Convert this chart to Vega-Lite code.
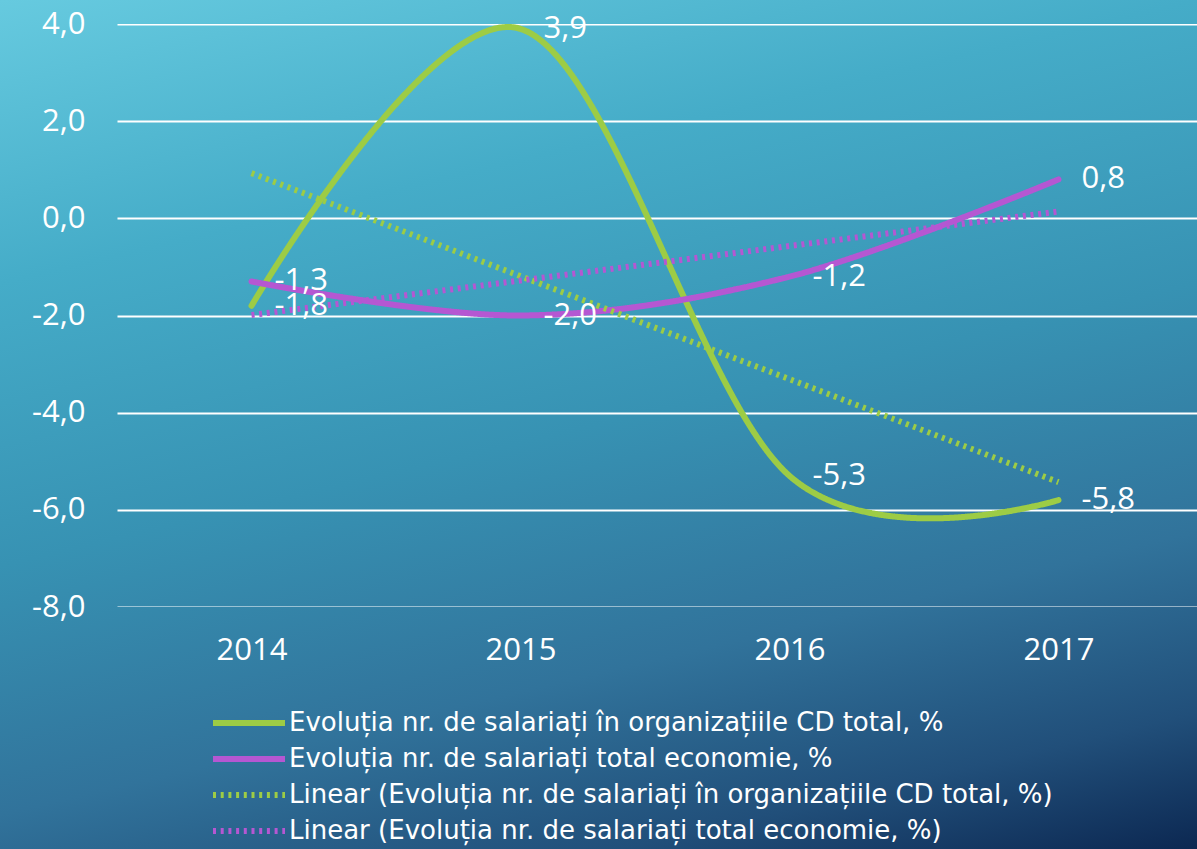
{
  "$schema": "https://vega.github.io/schema/vega-lite/v6.json",
  "width": 1080,
  "height": 583,
  "autosize": {"type": "none"},
  "padding": {"left": 117, "top": 24, "right": 0, "bottom": 242},
  "background": "#2f7fa3",
  "config": {
    "font": "Open Sans",
    "view": {
      "stroke": null,
      "fill": {
        "gradient": "linear", "x1": -0.03254, "y1": -0.07429, "x2": 0.68114, "y2": 1.55481,
        "stops": [
          {"offset": 0, "color": "#66cadf"},
          {"offset": 0.25, "color": "#45acc8"},
          {"offset": 0.5, "color": "#3792b3"},
          {"offset": 0.72, "color": "#31739b"},
          {"offset": 0.88, "color": "#214f7a"},
          {"offset": 1, "color": "#0c2852"}
        ]
      }
    },
    "locale": {
      "number": {"decimal": ",", "thousands": ".", "grouping": [3], "currency": ["", " €"], "minus": "-"}
    }
  },
  "datasets": {
    "main": [
      {"year": 2014, "series": "Evoluția nr. de salariați în organizațiile CD total, %", "trend": "Linear (Evoluția nr. de salariați în organizațiile CD total, %)", "value": -1.8},
      {"year": 2015, "series": "Evoluția nr. de salariați în organizațiile CD total, %", "trend": "Linear (Evoluția nr. de salariați în organizațiile CD total, %)", "value": 3.9},
      {"year": 2016, "series": "Evoluția nr. de salariați în organizațiile CD total, %", "trend": "Linear (Evoluția nr. de salariați în organizațiile CD total, %)", "value": -5.3},
      {"year": 2017, "series": "Evoluția nr. de salariați în organizațiile CD total, %", "trend": "Linear (Evoluția nr. de salariați în organizațiile CD total, %)", "value": -5.8},
      {"year": 2014, "series": "Evoluția nr. de salariați total economie, %", "trend": "Linear (Evoluția nr. de salariați total economie, %)", "value": -1.3},
      {"year": 2015, "series": "Evoluția nr. de salariați total economie, %", "trend": "Linear (Evoluția nr. de salariați total economie, %)", "value": -2.0},
      {"year": 2016, "series": "Evoluția nr. de salariați total economie, %", "trend": "Linear (Evoluția nr. de salariați total economie, %)", "value": -1.2},
      {"year": 2017, "series": "Evoluția nr. de salariați total economie, %", "trend": "Linear (Evoluția nr. de salariați total economie, %)", "value": 0.8}
    ]
  },
  "resolve": {"axis": {"y": "independent"}},
  "layer": [
    {
      "data": {"values": [{}]},
      "mark": {
        "type": "rect",
        "fill": {
          "gradient": "linear", "x1": 0, "y1": 0, "x2": 0.0434, "y2": 1.3319,
          "stops": [
            {"offset": 0, "color": "#66cadf"},
            {"offset": 0.25, "color": "#45acc8"},
            {"offset": 0.5, "color": "#3792b3"},
            {"offset": 0.72, "color": "#31739b"},
            {"offset": 0.88, "color": "#214f7a"},
            {"offset": 1, "color": "#0c2852"}
          ]
        }
      },
      "encoding": {"x": {"value": -117}, "x2": {"value": 0}, "y": {"value": -24}, "y2": {"value": 825}}
    },
    {
      "data": {"values": [{}]},
      "mark": {
        "type": "rect",
        "fill": {
          "gradient": "linear", "x1": -0.10738, "y1": -0.01009, "x2": 4.28624, "y2": 0.4028,
          "stops": [
            {"offset": 0, "color": "#66cadf"},
            {"offset": 0.25, "color": "#45acc8"},
            {"offset": 0.5, "color": "#3792b3"},
            {"offset": 0.72, "color": "#31739b"},
            {"offset": 0.88, "color": "#214f7a"},
            {"offset": 1, "color": "#0c2852"}
          ]
        }
      },
      "encoding": {"x": {"value": 0}, "x2": {"value": 1080}, "y": {"value": -24}, "y2": {"value": 0}}
    },
    {
      "data": {"values": [{}]},
      "mark": {
        "type": "rect",
        "fill": {
          "gradient": "linear", "x1": -1.3094, "y1": -1.24074, "x2": 1.02606, "y2": 0.97226,
          "stops": [
            {"offset": 0, "color": "#66cadf"},
            {"offset": 0.25, "color": "#45acc8"},
            {"offset": 0.5, "color": "#3792b3"},
            {"offset": 0.72, "color": "#31739b"},
            {"offset": 0.88, "color": "#214f7a"},
            {"offset": 1, "color": "#0c2852"}
          ]
        }
      },
      "encoding": {"x": {"value": 0}, "x2": {"value": 1080}, "y": {"value": 583}, "y2": {"value": 825}}
    },
    {
      "data": {"name": "main"},
      "mark": {"type": "line", "interpolate": "cardinal", "tension": 0, "strokeCap": "round"},
      "encoding": {
        "x": {"field": "year", "type": "quantitative", "scale": {"domain": [2013.5, 2017.515], "nice": false, "zero": false},
          "axis": {"values": [2014, 2015, 2016, 2017], "format": "d", "grid": false, "domain": false, "ticks": false, "labelFontSize": 31, "labelColor": "#ffffff", "labelPadding": 28, "title": null, "zindex": 1}},
        "y": {"field": "value", "type": "quantitative", "scale": {"domain": [-8, 4], "nice": false, "zero": false},
          "axis": {"values": [-8, -6, -4, -2, 0, 2, 4], "grid": true, "gridColor": "#ffffff", "gridWidth": 2, "gridOpacity": 1, "domain": false, "ticks": false, "labels": false, "title": null, "zindex": 0}},
        "color": {"field": "series", "type": "nominal", "title": null,
          "scale": {"domain": ["Evoluția nr. de salariați în organizațiile CD total, %", "Evoluția nr. de salariați total economie, %", "Linear (Evoluția nr. de salariați în organizațiile CD total, %)", "Linear (Evoluția nr. de salariați total economie, %)"],
                    "range": ["#9dcc45", "#b557d2", "#9dcc45", "#b557d2"]},
          "legend": {"orient": "none", "legendX": 117, "legendY": 684, "direction": "vertical", "symbolType": "M-3,0H3", "symbolSize": 576, "labelFont": "DejaVu Sans", "labelFontSize": 26, "labelColor": "#ffffff", "labelOffset": 25, "rowPadding": 8, "padding": 0, "labelLimit": 900}},
        "strokeDash": {"field": "series", "type": "nominal", "title": null,
          "scale": {"domain": ["Evoluția nr. de salariați în organizațiile CD total, %", "Evoluția nr. de salariați total economie, %", "Linear (Evoluția nr. de salariați în organizațiile CD total, %)", "Linear (Evoluția nr. de salariați total economie, %)"],
                    "range": [[1, 0], [1, 0], [3, 4.7], [3, 4.7]]}},
        "strokeWidth": {"field": "series", "type": "nominal", "title": null,
          "scale": {"domain": ["Evoluția nr. de salariați în organizațiile CD total, %", "Evoluția nr. de salariați total economie, %", "Linear (Evoluția nr. de salariați în organizațiile CD total, %)", "Linear (Evoluția nr. de salariați total economie, %)"],
                    "range": [6, 6, 3, 3]}}
      }
    },
    {
      "data": {"name": "main"},
      "transform": [{"regression": "value", "on": "year", "groupby": ["trend"]}],
      "mark": {"type": "line", "strokeCap": "butt"},
      "encoding": {
        "x": {"field": "year", "type": "quantitative"},
        "y": {"field": "value", "type": "quantitative", "axis": null},
        "color": {"field": "trend", "type": "nominal", "title": null},
        "strokeDash": {"field": "trend", "type": "nominal", "title": null},
        "strokeWidth": {"field": "trend", "type": "nominal", "title": null}
      }
    },
    {
      "data": {"name": "main"},
      "mark": {"type": "text", "align": "left", "baseline": "middle", "dx": 23, "fontSize": 31, "color": "#ffffff"},
      "encoding": {
        "x": {"field": "year", "type": "quantitative"},
        "y": {"field": "value", "type": "quantitative",
          "axis": {"orient": "left", "values": [-8, -6, -4, -2, 0, 2, 4], "format": ".1f", "grid": false, "domain": false, "ticks": false, "labelFontSize": 31, "labelColor": "#ffffff", "labelPadding": 32, "title": null, "zindex": 1}},
        "text": {"field": "value", "type": "quantitative", "format": ".1f"}
      }
    }
  ]
}
